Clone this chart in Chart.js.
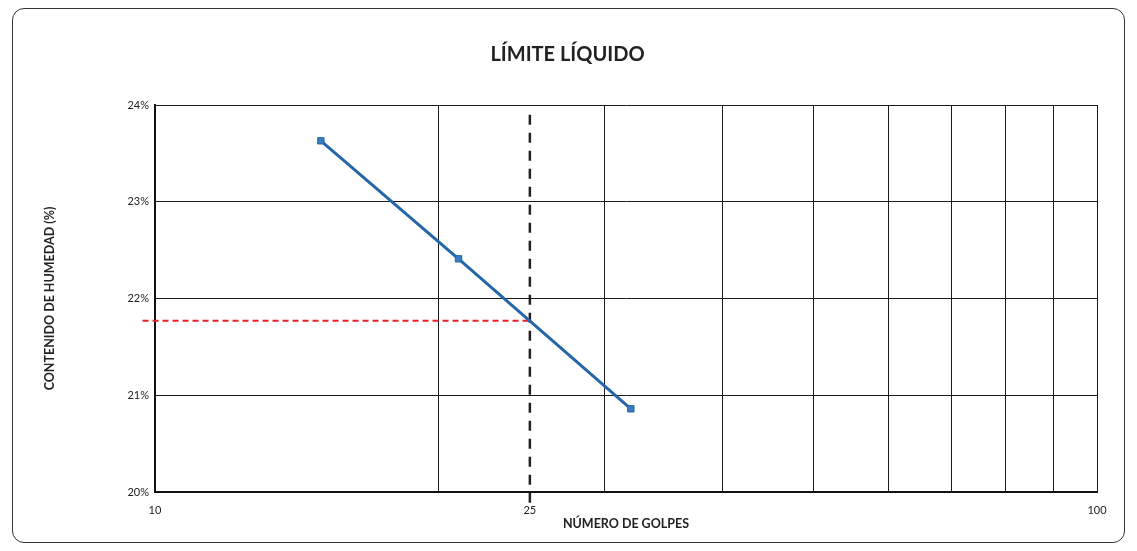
<!DOCTYPE html>
<html>
<head>
<meta charset="utf-8">
<script src="https://cdn.jsdelivr.net/npm/chart.js@4.4.1/dist/chart.umd.min.js"></script>
<style>
  body { margin: 0; background: #fff; }
  #wrap { position: relative; width: 1137px; height: 551px; }
  #frame {
    position: absolute; left: 12px; top: 8px; width: 1111px; height: 533px;
    border: 1.5px solid #333; border-radius: 12px; pointer-events: none;
  }
</style>
</head>
<body>
<div id="wrap">
  <canvas id="chart" width="1137" height="551"></canvas>
  <div id="frame"></div>
</div>
<script>
// datos del ensayo
const golpes = [15, 21, 32];
const humedad = [23.63, 22.41, 20.86];
const limiteGolpes = 25;
const limiteHumedad = 21.77;
const xTicks = [10, 20, 25, 30, 40, 50, 60, 70, 80, 90, 100];
const xLabels = [10, 25, 100];
const yTicks = [20, 21, 22, 23, 24];

const fontFamily = "Lato, 'Open Sans', sans-serif";

const ctx = document.getElementById('chart');

new Chart(ctx, {
  type: 'scatter',
  data: {
    datasets: [
      {
        label: 'Humedad',
        data: golpes.map((g, i) => ({ x: g, y: humedad[i] })),
        showLine: true,
        borderColor: '#2466A8',
        borderWidth: 3,
        pointStyle: 'rect',
        pointRadius: 4.5,
        pointBackgroundColor: '#3A7CC0',
        pointBorderColor: '#2466A8',
        pointBorderWidth: 1,
        order: 1
      },
      {
        label: 'Limite',
        data: [{ x: 9.7, y: limiteHumedad }, { x: limiteGolpes, y: limiteHumedad }],
        showLine: true,
        borderColor: '#E8202A',
        borderWidth: 2,
        borderDash: [6, 4],
        pointRadius: 0,
        clip: false,
        order: 2
      },
      {
        label: '25 golpes',
        data: [{ x: limiteGolpes, y: 23.9 }, { x: limiteGolpes, y: 19.88 }],
        showLine: true,
        borderColor: '#222',
        borderWidth: 2.5,
        borderDash: [10, 8],
        pointRadius: 0,
        clip: false,
        order: 3
      }
    ]
  },
  options: {
    responsive: false,
    animation: false,
    layout: {
      padding: { left: 38, right: 40, top: 0, bottom: 20 }
    },
    plugins: {
      legend: { display: false },
      tooltip: { enabled: false },
      title: {
        display: true,
        text: 'LÍMITE LÍQUIDO',
        color: '#222',
        font: { family: fontFamily, size: 20, weight: 'bold' },
        padding: { top: 43, bottom: 38 }
      }
    },
    scales: {
      x: {
        type: 'logarithmic',
        min: 10,
        max: 100,
        afterBuildTicks: (scale) => {
          scale.ticks = xTicks.map(v => ({ value: v }));
        },
        afterFit: (scale) => { scale.height = 39; },
        ticks: {
          autoSkip: false,
          maxRotation: 0,
          color: '#222',
          padding: 12,
          font: { family: fontFamily, size: 11 },
          callback: (value) => xLabels.includes(value) ? String(value) : ''
        },
        grid: {
          color: (c) => (c.tick && c.tick.value === limiteGolpes) ? 'rgba(0,0,0,0)' : '#1a1a1a',
          lineWidth: 1,
          drawTicks: false
        },
        border: { color: '#111', width: 2 },
        title: {
          display: true,
          text: 'NÚMERO DE GOLPES',
          color: '#222',
          font: { family: fontFamily, size: 12.5, weight: 'bold' },
          padding: { top: 4, bottom: 0 }
        }
      },
      y: {
        min: 20,
        max: 24,
        afterBuildTicks: (scale) => {
          scale.ticks = yTicks.map(v => ({ value: v }));
        },
        afterFit: (scale) => { scale.width = 117; },
        ticks: {
          color: '#222',
          padding: 6,
          font: { family: fontFamily, size: 11 },
          callback: (value) => value + '%'
        },
        grid: {
          color: '#1a1a1a',
          lineWidth: 1,
          drawTicks: false
        },
        border: { color: '#111', width: 2 },
        title: {
          display: true,
          text: 'CONTENIDO DE HUMEDAD (%)',
          color: '#222',
          font: { family: fontFamily, size: 12.5, weight: 'bold' },
          padding: { bottom: 0 }
        }
      }
    }
  }
});
</script>
</body>
</html>
